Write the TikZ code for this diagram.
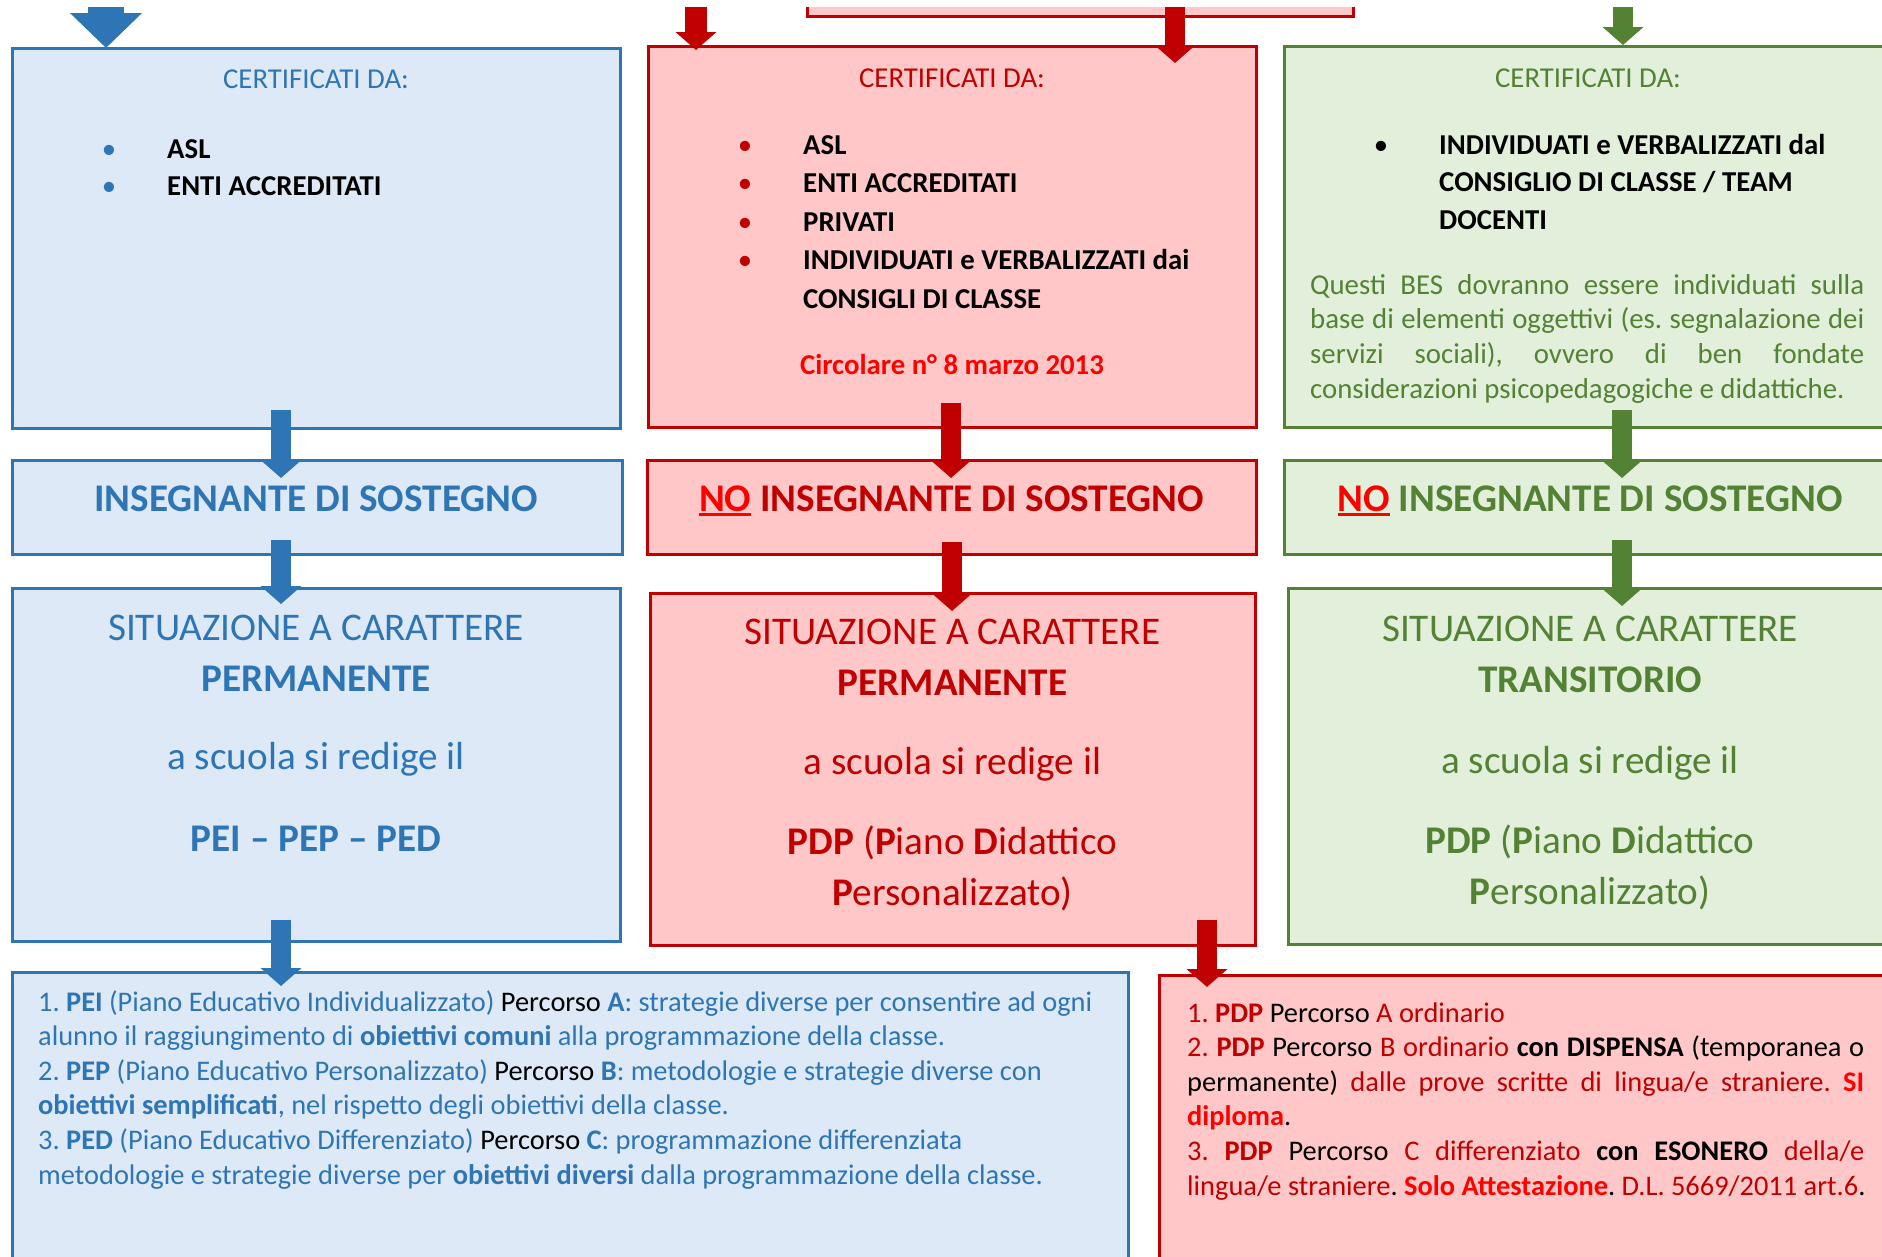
\documentclass[tikz,border=0pt]{standalone}
\usepackage{fontspec}
\setmainfont{Carlito}
\usetikzlibrary{arrows.meta,calc}
\frenchspacing

\definecolor{bBorder}{RGB}{46,117,182}
\definecolor{bFill}{RGB}{221,233,246}
\definecolor{bText}{RGB}{46,117,182}
\definecolor{rBorder}{RGB}{192,0,0}
\definecolor{rFill}{RGB}{255,199,199}
\definecolor{rText}{RGB}{192,0,0}
\definecolor{rBright}{RGB}{255,0,0}
\definecolor{gBorder}{RGB}{84,130,53}
\definecolor{gFill}{RGB}{226,239,218}
\definecolor{gText}{RGB}{84,130,53}

% red underlined word (used for NO)
\newcommand\redul[1]{\setbox0\hbox{{\color{rBright}#1}}{\color{rBright}\rlap{\rule[-5pt]{\wd0}{2.6pt}}}\box0\relax}

\tikzset{
  box/.style={draw, line width=3pt, inner sep=0pt, outer sep=0pt, anchor=north west},
  bbox/.style={box, draw=bBorder, fill=bFill},
  rbox/.style={box, draw=rBorder, fill=rFill},
  gbox/.style={box, draw=gBorder, fill=gFill},
  flow/.style={line width=20pt, -{Triangle[width=40pt,length=18pt]}},
  flowb/.style={flow, draw=bBorder},
  flowr/.style={flow, draw=rBorder},
  flowg/.style={flow, draw=gBorder},
  small/.style={inner sep=0pt, anchor=base, font=\fontsize{28.8}{34}\selectfont},
  smalll/.style={small, anchor=base west},
  note/.style={inner sep=0pt, anchor=base west, font=\fontsize{28.4}{34}\selectfont},
  big/.style={inner sep=0pt, anchor=base, font=\fontsize{39.2}{46}\selectfont},
}

\begin{document}
\begin{tikzpicture}[x=1pt,y=-1pt]
\useasboundingbox (0,0) rectangle (1882,1256);
\fill[white] (0,0) rectangle (1882,1256);
\begin{scope}
\clip (0,7) rectangle (1882,1256);

% ---------- boxes ----------
\node[bbox, minimum width=608, minimum height=380] (bcert) at (12,48) {};
\node[bbox, minimum width=610, minimum height=94]  (bins)  at (12,460) {};
\node[bbox, minimum width=608, minimum height=353] (bsit)  at (12,588) {};
\node[bbox, minimum width=1116, minimum height=330] (bbot) at (12,972) {};

\node[rbox, minimum width=546, minimum height=60]  (rtop)  at (807,-44) {};
\node[rbox, minimum width=608, minimum height=381] (rcert) at (648,46) {};
\node[rbox, minimum width=609, minimum height=94]  (rins)  at (647,460) {};
\node[rbox, minimum width=605, minimum height=352] (rsit)  at (650,593) {};
\node[rbox, minimum width=741, minimum height=330] (rbot)  at (1159,975) {};

\node[gbox, minimum width=608, minimum height=381] (gcert) at (1284,46) {};
\node[gbox, minimum width=608, minimum height=94]  (gins)  at (1284,460) {};
\node[gbox, minimum width=604, minimum height=356] (gsit)  at (1288,588) {};

% ---------- arrows ----------
\coordinate (btop) at (106,0);
\draw[draw=bBorder, line width=36pt, -{Triangle[width=70pt,length=35pt]}]
  (btop) -- ($(bcert.north)+(-210,0)$);
\draw[flowb] ($(bcert.south)+(-35,-18)$) -- ($(bins.north)+(-36,18)$);
\draw[flowb] ($(bins.south)+(-36,-14)$) -- ($(bsit.north)+(-35,16)$);
\draw[flowb] ($(bsit.south)+(-35,-21)$) -- ($(bbot.north)+(-289,14)$);

\coordinate (rtopl) at (696,0);
\draw[flowr, line width=22pt] (rtopl) -- ($(rcert.north)+(-256,4)$);
\draw[flowr] ($(rtop.south)+(95,-20)$) -- ($(rcert.north)+(223,17)$);
\draw[flowr] ($(rcert.south)+(-1,-24)$) -- ($(rins.north)+(-0.5,18)$);
\draw[flowr] ($(rins.south)+(0.5,-12)$) -- ($(rsit.north)+(-0.5,18)$);
\draw[flowr] ($(rsit.south)+(254.5,-25)$) -- ($(rbot.north)+(-322.5,12)$);

\coordinate (gtopc) at (1623,0);
\draw[flowg] (gtopc) -- ($(gcert.north)+(35,-1)$);
\draw[flowg] ($(gcert.south)+(34,-17)$) -- ($(gins.north)+(34,18)$);
\draw[flowg] ($(gins.south)+(34,-14)$) -- ($(gsit.north)+(32,18)$);

% ---------- blue column texts ----------
\node[small, text=bText] (bct) at (316,88) {CERTIFICATI DA:};
\node[small, text=bText] (bb1) at (109,158) {•};
\node[smalll] (bi1) at (167,158) {\textbf{ASL}};
\node[small, text=bText] (bb2) at (109,195) {•};
\node[smalll] (bi2) at (167,195) {\textbf{ENTI ACCREDITATI}};

\node[big, text=bText] (bint) at (316,511) {\textbf{INSEGNANTE DI SOSTEGNO}};

\node[big, text=bText] (bs1) at (316,640) {SITUAZIONE A CARATTERE};
\node[big, text=bText] (bs2) at (316,691) {\textbf{PERMANENTE}};
\node[big, text=bText] (bs3) at (316,769) {a scuola si redige il};
\node[big, text=bText] (bs4) at (316,851) {\textbf{PEI – PEP – PED}};

\node[note, text=bText] (bp1) at (38,1011) {1. \textbf{PEI} (Piano Educativo Individualizzato) {\color{black}Percorso} \textbf{A}: strategie diverse per consentire ad ogni};
\node[note, text=bText] (bp2) at (38,1045.6) {alunno il raggiungimento di \textbf{obiettivi comuni} alla programmazione della classe.};
\node[note, text=bText] (bp3) at (38,1080.2) {2. \textbf{PEP} (Piano Educativo Personalizzato) {\color{black}Percorso} \textbf{B}: metodologie e strategie diverse con};
\node[note, text=bText] (bp4) at (38,1114.8) {\textbf{obiettivi semplificati}, nel rispetto degli obiettivi della classe.};
\node[note, text=bText] (bp5) at (38,1149.4) {3. \textbf{PED} (Piano Educativo Differenziato) {\color{black}Percorso} \textbf{C}: programmazione differenziata};
\node[note, text=bText] (bp6) at (38,1184) {metodologie e strategie diverse per \textbf{obiettivi diversi} dalla programmazione della classe.};

% ---------- red column texts ----------
\node[small, text=rText] (rct) at (952,87) {CERTIFICATI DA:};
\node[small, text=rText] (rb1) at (745,154) {•};
\node[smalll] (ri1) at (803,154) {\textbf{ASL}};
\node[small, text=rText] (rb2) at (745,192.5) {•};
\node[smalll] (ri2) at (803,192.5) {\textbf{ENTI ACCREDITATI}};
\node[small, text=rText] (rb3) at (745,231) {•};
\node[smalll] (ri3) at (803,231) {\textbf{PRIVATI}};
\node[small, text=rText] (rb4) at (745,269.5) {•};
\node[smalll] (ri4) at (803,269.5) {\textbf{INDIVIDUATI e VERBALIZZATI dai}};
\node[smalll] (ri5) at (803,308) {\textbf{CONSIGLI DI CLASSE}};
\node[small, text=rBright] (rcirc) at (952,374) {\textbf{Circolare n° 8 marzo 2013}};

\node[big, text=rText] (rint) at (951.5,511) {\textbf{\redul{NO} INSEGNANTE DI SOSTEGNO}};

\node[big, text=rText] (rs1) at (952.5,644) {SITUAZIONE A CARATTERE};
\node[big, text=rText] (rs2) at (952.5,695) {\textbf{PERMANENTE}};
\node[big, text=rText] (rs3) at (952.5,774) {a scuola si redige il};
\node[big, text=rText] (rs4) at (952.5,854) {\textbf{PDP} (\textbf{P}iano \textbf{D}idattico};
\node[big, text=rText] (rs5) at (952.5,905) {\textbf{P}ersonalizzato)};

\node[note, text=rText] (rp1) at (1187,1022) {1. \textbf{PDP} {\color{black}Percorso} A ordinario};
\node[note, text=rText] (rp2) at (1187,1056.6) {\makebox[677pt][s]{2. \textbf{PDP} {\color{black}Percorso} B ordinario {\color{black}\textbf{con DISPENSA} (temporanea o}}};
\node[note, text=rText] (rp3) at (1187,1091.2) {\makebox[677pt][s]{{\color{black}permanente)} dalle prove scritte di lingua/e straniere. {\color{rBright}\textbf{SI}}}};
\node[note, text=rBright] (rp4) at (1187,1125.8) {\textbf{diploma}{\color{black}.}};
\node[note, text=rText] (rp5) at (1187,1160.4) {\makebox[677pt][s]{3. \textbf{PDP} {\color{black}Percorso} C differenziato {\color{black}\textbf{con ESONERO}} della/e}};
\node[note, text=rText] (rp6) at (1187,1195) {lingua/e straniere{\color{black}.} {\color{rBright}\textbf{Solo Attestazione}}{\color{black}.} D.L. 5669/2011 art.6{\color{black}.}};

% ---------- green column texts ----------
\node[small, text=gText] (gct) at (1588,87) {CERTIFICATI DA:};
\node[small] (gb1) at (1381,154) {•};
\node[smalll] (gi1) at (1439,154) {\textbf{INDIVIDUATI e VERBALIZZATI dal}};
\node[smalll] (gi2) at (1439,191.5) {\textbf{CONSIGLIO DI CLASSE / TEAM}};
\node[smalll] (gi3) at (1439,229) {\textbf{DOCENTI}};
\node[smalll, text=gText] (gq1) at (1310,294) {\makebox[554pt][s]{Questi BES dovranno essere individuati sulla}};
\node[smalll, text=gText] (gq2) at (1310,328.7) {\makebox[554pt][s]{base di elementi oggettivi (es. segnalazione dei}};
\node[smalll, text=gText] (gq3) at (1310,363.4) {\makebox[554pt][s]{servizi sociali), ovvero di ben fondate}};
\node[smalll, text=gText] (gq4) at (1310,398) {considerazioni psicopedagogiche e didattiche.};

\node[big, text=gText] (gint) at (1590,511) {\textbf{\redul{NO} INSEGNANTE DI SOSTEGNO}};

\node[big, text=gText] (gs1) at (1590,641) {SITUAZIONE A CARATTERE};
\node[big, text=gText] (gs2) at (1590,692) {\textbf{TRANSITORIO}};
\node[big, text=gText] (gs3) at (1590,773) {a scuola si redige il};
\node[big, text=gText] (gs4) at (1590,853) {\textbf{PDP} (\textbf{P}iano \textbf{D}idattico};
\node[big, text=gText] (gs5) at (1590,904) {\textbf{P}ersonalizzato)};
\end{scope}
\end{tikzpicture}
\end{document}
